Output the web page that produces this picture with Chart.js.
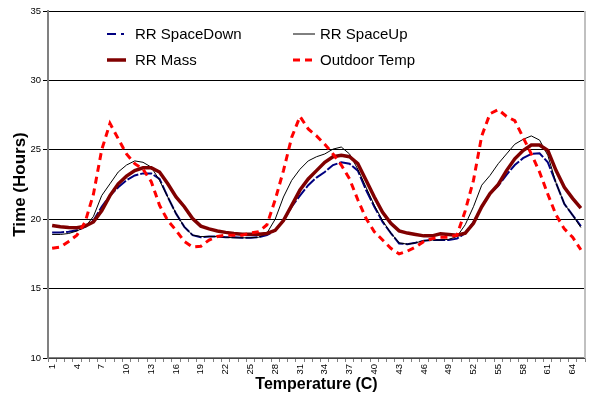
<!DOCTYPE html>
<html>
<head>
<meta charset="utf-8">
<script src="https://cdn.jsdelivr.net/npm/chart.js@4/dist/chart.umd.min.js"></script>
<style>
  body { margin: 0; background: #fff; }
  #wrap { width: 597px; height: 398px; }
</style>
</head>
<body>
<div id="wrap"><canvas id="chart"></canvas></div>
<script>
const categories = [];
for (let i = 1; i <= 65; i++) categories.push(String(i));

const spaceDown = [
  19.05, 19.05, 19.1, 19.2, 19.45, 19.9, 20.9, 21.7, 22.3, 22.8,
  23.15, 23.3, 23.3, 22.9, 21.6, 20.4, 19.45, 18.85, 18.7, 18.75,
  18.75, 18.7, 18.7, 18.66, 18.66, 18.7, 18.85, 19.2, 19.9, 20.9,
  21.7, 22.45, 23.0, 23.4, 23.9, 24.1, 24.0, 23.5, 22.1, 20.9,
  19.8, 19.0, 18.25, 18.2, 18.3, 18.45, 18.5, 18.5, 18.5, 18.6,
  19.0, 19.8, 20.9, 21.85, 22.4, 23.2, 23.9, 24.4, 24.7, 24.75,
  24.1, 22.6, 21.1, 20.3, 19.5,
];
const spaceUp = [
  18.9, 18.9, 18.97, 19.15, 19.45, 20.2, 21.7, 22.55, 23.4, 23.9,
  24.2, 24.1, 23.75, 22.8, 21.6, 20.4, 19.45, 18.85, 18.75, 18.75,
  18.75, 18.7, 18.66, 18.66, 18.66, 18.7, 19.0, 20.0, 21.6, 22.8,
  23.6, 24.2, 24.5, 24.7, 25.05, 25.2, 24.7, 23.6, 22.3, 21.0,
  19.9, 19.0, 18.3, 18.2, 18.3, 18.45, 18.5, 18.5, 18.55, 18.75,
  19.6, 20.9, 22.45, 23.15, 24.0, 24.7, 25.4, 25.75, 26.0, 25.7,
  24.6, 22.6, 21.1, 20.3, 19.4,
];
const mass = [
  19.55, 19.45, 19.4, 19.38, 19.5, 19.8, 20.6, 21.7, 22.55, 23.1,
  23.5, 23.7, 23.7, 23.4, 22.55, 21.6, 20.9, 20.05, 19.5, 19.3,
  19.15, 19.05, 18.97, 18.92, 18.92, 18.92, 18.97, 19.2, 19.9, 21.0,
  22.1, 22.9, 23.5, 24.1, 24.5, 24.6, 24.5, 24.0, 22.8, 21.6,
  20.5, 19.7, 19.16, 19.0, 18.9, 18.8, 18.8, 18.95, 18.9, 18.85,
  19.0, 19.7, 20.9, 21.85, 22.5, 23.5, 24.35, 24.95, 25.35, 25.35,
  24.95, 23.5, 22.3, 21.5, 20.8,
];
const outdoor = [
  17.9, 18.0, 18.4, 18.85, 19.8, 21.8, 25.0, 26.9, 25.8, 24.7,
  24.0, 23.6, 22.7, 21.0, 19.9, 19.2, 18.4, 18.0, 18.05, 18.5,
  18.75, 18.85, 18.85, 18.85, 19.0, 19.1, 19.6, 21.4, 23.5, 25.9,
  27.4, 26.5, 26.0, 25.4, 24.7, 23.9, 22.9, 21.4, 20.05, 19.1,
  18.5, 17.9, 17.5, 17.7, 18.0, 18.4, 18.6, 18.7, 18.7, 18.85,
  20.6, 22.8, 26.0, 27.6, 27.9, 27.4, 27.1, 25.9, 24.7, 23.4,
  21.8, 20.3, 19.3, 18.7, 17.8,
];
const seriesNames = ["RR SpaceDown", "RR SpaceUp", "RR Mass", "Outdoor Temp"];

const FONT = "'Liberation Sans', Arial, sans-serif";

// legend inside the plot, two columns like the Excel original
const boxLegend = {
  id: "boxLegend",
  afterDraw(chart) {
    const ctx = chart.ctx;
    const spots = [
      { x: 107, y: 34, w: 19, gap: 9 },
      { x: 293, y: 34, w: 22, gap: 5 },
      { x: 107, y: 60, w: 19, gap: 9 },
      { x: 293, y: 60, w: 22, gap: 5 },
    ];
    chart.data.datasets.forEach((ds, i) => {
      const s = spots[i];
      ctx.save();
      ctx.strokeStyle = ds.borderColor;
      ctx.lineWidth = ds.borderWidth;
      ctx.setLineDash(ds.legendDash || []);
      ctx.beginPath();
      ctx.moveTo(s.x, s.y);
      ctx.lineTo(s.x + s.w, s.y);
      ctx.stroke();
      ctx.setLineDash([]);
      ctx.fillStyle = "#000";
      ctx.font = "15px " + FONT;
      ctx.textBaseline = "middle";
      ctx.fillText(ds.label, s.x + s.w + s.gap, s.y + 1);
      ctx.restore();
    });
    // right border of the plot area
    const a = chart.chartArea;
    ctx.save();
    ctx.strokeStyle = "#c0c0c0";
    ctx.lineWidth = 2;
    ctx.beginPath();
    ctx.moveTo(a.right, a.top);
    ctx.lineTo(a.right, a.bottom);
    ctx.stroke();
    ctx.restore();
  },
};

new Chart(document.getElementById("chart"), {
  type: "line",
  data: {
    labels: categories,
    datasets: [
      {
        label: seriesNames[0], data: spaceDown, borderColor: "#000080",
        borderWidth: 2, borderDash: [12, 2], legendDash: [9, 5, 3, 5], order: 4,
      },
      {
        label: seriesNames[1], data: spaceUp, borderColor: "#000000",
        borderWidth: 1, order: 3,
      },
      {
        label: seriesNames[2], data: mass, borderColor: "#800000",
        borderWidth: 3.5, order: 2,
      },
      {
        label: seriesNames[3], data: outdoor, borderColor: "#ff0000",
        borderWidth: 3, borderDash: [7, 5], legendDash: [7, 5], order: 1,
      },
    ],
  },
  options: {
    responsive: true,
    maintainAspectRatio: false,
    animation: false,
    layout: { padding: { top: 11, right: 12, left: 0, bottom: 0 } },
    elements: { point: { radius: 0 }, line: { tension: 0 } },
    plugins: { legend: { display: false }, tooltip: { enabled: false } },
    scales: {
      x: {
        offset: true,
        grid: {
          offset: true, drawOnChartArea: false, drawTicks: true,
          tickLength: 4, color: "#808080",
        },
        border: { color: "#808080", width: 1.5 },
        ticks: {
          autoSkip: false, maxRotation: 90, minRotation: 90, padding: 2,
          color: "#000", font: { family: FONT, size: 9.5 },
          callback: (v, i) => (i % 3 === 0 ? categories[i] : ""),
        },
        title: {
          display: true, text: "Temperature (C)", color: "#000",
          font: { family: FONT, size: 16, weight: "bold" }, padding: { top: 1 },
        },
        afterFit: (s) => { s.height = 40; },
      },
      y: {
        min: 10, max: 35,
        ticks: {
          stepSize: 5, padding: 2, color: "#000",
          font: { family: FONT, size: 9.5 },
        },
        grid: { color: "#000", lineWidth: 1, tickLength: 5, tickColor: "#000" },
        border: { color: "#808080", width: 2 },
        title: {
          display: true, text: "Time (Hours)", color: "#000",
          font: { family: FONT, size: 17, weight: "bold" }, padding: { top: 10 },
        },
        afterFit: (s) => { s.width = 48; },
      },
    },
  },
  plugins: [boxLegend],
});
</script>
</body>
</html>
